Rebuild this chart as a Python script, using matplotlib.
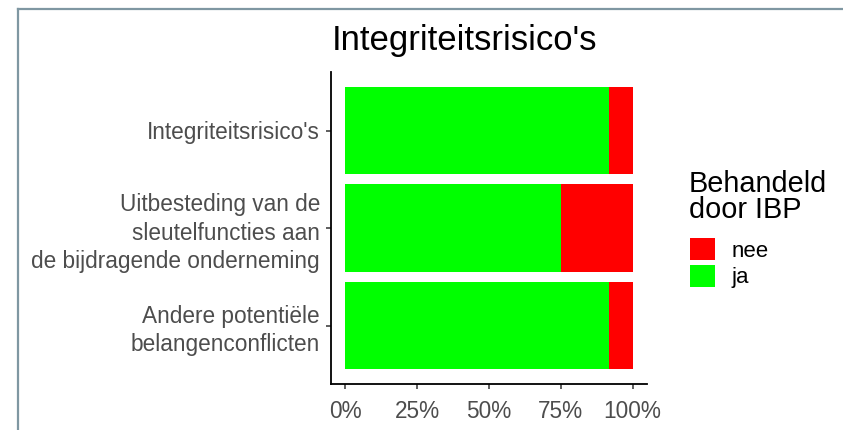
import numpy as np
import matplotlib.pyplot as plt
from matplotlib.patches import Patch
from matplotlib.lines import Line2D

plt.rcParams['font.family'] = ['Liberation Sans', 'DejaVu Sans']

# %% data
categories = ["Integriteitsrisico's",
              "Uitbesteding van de\nsleutelfuncties aan\nde bijdragende onderneming",
              "Andere potentiële\nbelangenconflicten"]
ja_pct = np.array([91.7, 75.0, 91.7])
nee_pct = 100 - ja_pct
legend_labels = ["nee", "ja"]
colors = {"nee": "#FF0000", "ja": "#00FF00"}
xticks = [0, 25, 50, 75, 100]

# %% figure
W, H = 843, 430
fig = plt.figure(figsize=(W / 100, H / 100), dpi=100)
ax = fig.add_axes([331 / W, 1 - 384 / H, (647 - 331) / W, (384 - 72) / H])

ypos = np.arange(len(categories))[::-1] + 1
ax.barh(ypos, ja_pct, height=0.9, color=colors["ja"], edgecolor="none")
ax.barh(ypos, nee_pct, left=ja_pct, height=0.9, color=colors["nee"], edgecolor="none")

ax.set_xlim(-5, 105)
ax.set_ylim(0.4, 3.6)
ax.set_xticks(xticks)
ax.set_xticklabels([f"{t}%" for t in xticks])
ax.set_yticks(ypos)
ax.set_yticklabels(categories, linespacing=1.28)

for s in ["top", "right"]:
    ax.spines[s].set_visible(False)
for s in ["left", "bottom"]:
    ax.spines[s].set_linewidth(1.3)
    ax.spines[s].set_color("black")
ax.tick_params(axis="both", length=3.5, width=1.1, color="#333333",
               labelsize=16.3, labelcolor="#4d4d4d")
ax.tick_params(axis="y", pad=4.5)
ax.tick_params(axis="x", pad=8)

fig.text(332 / W, 1 - 50 / H, "Integriteitsrisico's", fontsize=25,
         ha="left", va="baseline")

# legend: title as text, keys below it
fig.text(689 / W, 1 - 192 / H, "Behandeld", fontsize=20.8,
         ha="left", va="baseline")
fig.text(689 / W, 1 - 218 / H, "door IBP", fontsize=20.8,
         ha="left", va="baseline")
handles = [Patch(facecolor=colors[l], edgecolor="none") for l in legend_labels]
leg = fig.legend(handles, legend_labels,
                 loc="upper left", bbox_to_anchor=(690 / W, 1 - 238 / H),
                 frameon=False, fontsize=16,
                 borderpad=0, borderaxespad=0, handlelength=1.12,
                 handleheight=1.17, labelspacing=0.14, handletextpad=0.75)

# outer frame (screenshot border)
fig.add_artist(Line2D([17.5 / W, 1], [1 - 8.5 / H, 1 - 8.5 / H],
                      transform=fig.transFigure, color="#7f97a2", lw=1.6))
fig.add_artist(Line2D([17.5 / W, 17.5 / W], [0, 1 - 8.5 / H],
                      transform=fig.transFigure, color="#7f97a2", lw=1.6))

fig.savefig("out.png", dpi=100)
